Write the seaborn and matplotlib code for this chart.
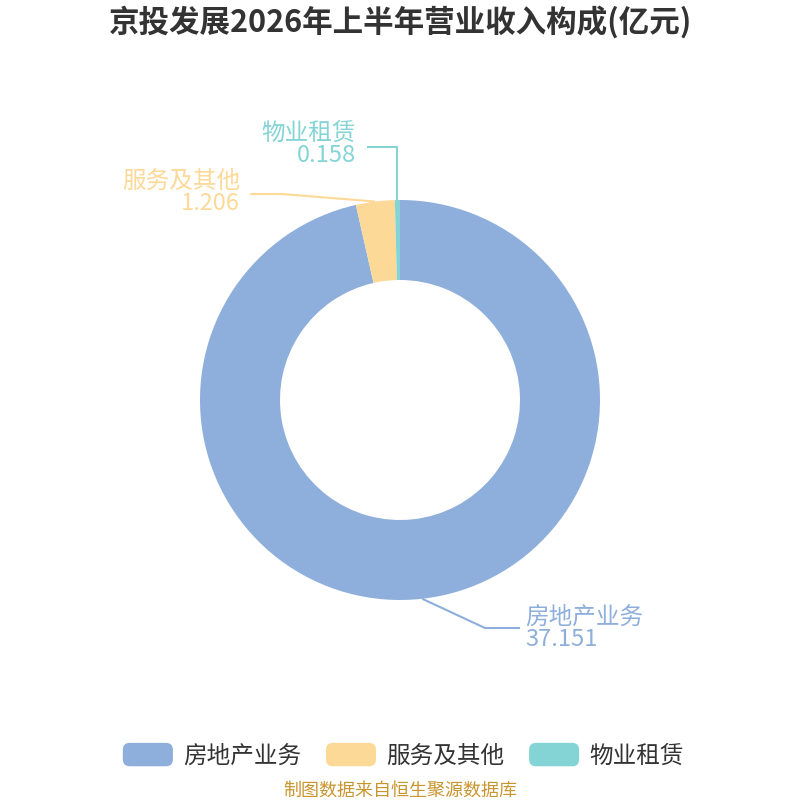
import matplotlib
matplotlib.use('Agg')
import matplotlib.pyplot as plt
import seaborn as sns
import numpy as np
from matplotlib.patches import FancyBboxPatch, Patch
from matplotlib.legend_handler import HandlerPatch

# data
categories = ['房地产业务', '服务及其他', '物业租赁']
values = [37.151, 1.206, 0.158]
value_labels = ['37.151', '1.206', '0.158']
colors = ['#8eaedb', '#fdd998', '#84d4d5']
title = '京投发展2026年上半年营业收入构成(亿元)'
source = '制图数据来自恒生聚源数据库'

sns.set_theme(style='white')
plt.rcParams['font.family'] = ['Noto Sans CJK SC', 'DejaVu Sans']

fig = plt.figure(figsize=(8, 8), dpi=100)
ax = fig.add_axes([0, 0, 1, 1])

wedges, _ = ax.pie(values, colors=colors, startangle=90, counterclock=False,
                   radius=1.0, wedgeprops=dict(width=0.4, linewidth=0))
ax.set_xlim(-2, 2)
ax.set_ylim(-2, 2)
ax.set_aspect('equal')
ax.axis('off')

# label layout: (elbow, end of line, text anchor, ha)
layout = [
    ((0.425, -1.14), (0.6, -1.14), (0.625, -1.14), 'left'),
    ((-0.59, 1.03), (-0.75, 1.03), (-0.80, 1.04), 'right'),
    (None, (-0.165, 1.265), (-0.22, 1.28), 'right'),
]

for w, name, lab, col, (elbow, end, txt, ha) in zip(wedges, categories, value_labels, colors, layout):
    ang = np.deg2rad((w.theta1 + w.theta2) / 2)
    sx, sy = np.cos(ang), np.sin(ang)
    if elbow is None:
        xs = [sx, sx, end[0]]
        ys = [sy, end[1], end[1]]
    else:
        xs = [sx, elbow[0], end[0]]
        ys = [sy, elbow[1], end[1]]
    ax.plot(xs, ys, color=col, lw=1.5, solid_capstyle='butt')
    ax.text(txt[0], txt[1], name + '\n' + lab, color=col, fontsize=17,
            ha=ha, va='center', linespacing=0.95)

fig.text(0.5, 0.972, title, ha='center', va='center', fontsize=22,
         fontweight='bold', color='#333333')


class RoundHandler(HandlerPatch):
    def create_artists(self, legend, orig_handle, xdescent, ydescent,
                       width, height, fontsize, trans):
        p = FancyBboxPatch((-xdescent, -ydescent), width, height,
                           boxstyle='round,pad=0,rounding_size=5',
                           facecolor=orig_handle.get_facecolor(),
                           edgecolor='none', transform=trans)
        return [p]


handles = [Patch(facecolor=c, label=n) for c, n in zip(colors, categories)]
fig.legend(handles=handles, loc='center', bbox_to_anchor=(0.504, 0.056),
           ncol=3, frameon=False, fontsize=17, handlelength=2.12,
           handleheight=1.15, handletextpad=0.42, columnspacing=1.06,
           labelcolor='#333333',
           handler_map={Patch: RoundHandler()})

fig.text(0.5, 0.012, source, ha='center', va='center', fontsize=13,
         color='#c9952e')

fig.savefig('out.png', dpi=100, facecolor='white')
